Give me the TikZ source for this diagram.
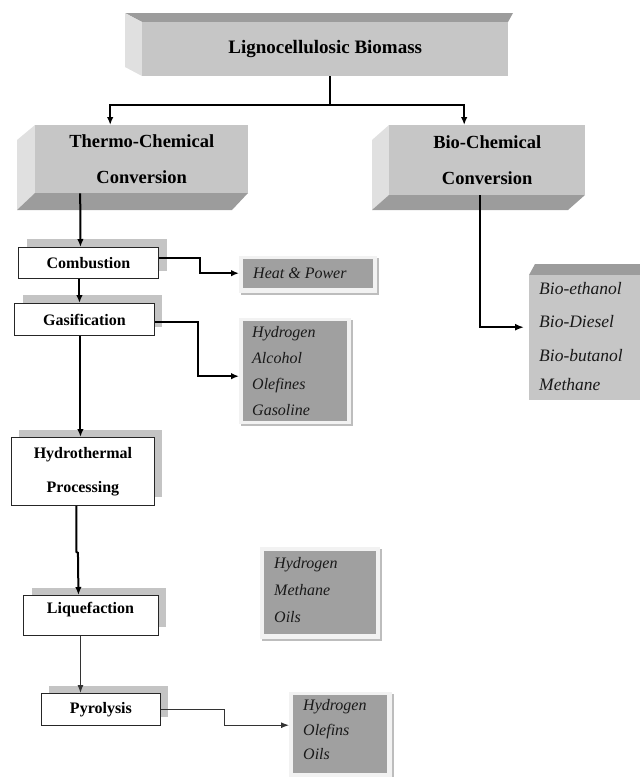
\documentclass[tikz,border=0pt]{standalone}
\usepackage{fontspec}
\setmainfont{Liberation Serif}
\usetikzlibrary{arrows.meta}
\definecolor{frontg}{HTML}{C6C6C6}
\definecolor{topg}{HTML}{9C9C9C}
\definecolor{sideg}{HTML}{E0E0E0}
\definecolor{darkg}{HTML}{A0A0A0}
\definecolor{shadg}{HTML}{C4C4C4}
\definecolor{frameg}{HTML}{F2F2F2}
\definecolor{frameshad}{HTML}{BDBDBD}
\begin{document}
\begin{tikzpicture}[x=1pt,y=-1pt,
  conn/.style={line width=2pt, -{Latex[length=8pt,width=6.5pt]}},
  thinconn/.style={line width=1.1pt, black!80, -{Latex[length=8pt,width=6pt]}},
  face/.style={fill=frontg, draw=none, inner sep=0pt},
  bigtext/.style={font=\fontsize{18.5}{36}\selectfont\bfseries, align=center},
  proc/.style={draw=black!85, line width=0.9pt, fill=white, inner sep=0pt,
    font=\fontsize{16}{34}\selectfont\bfseries, align=center},
  shad/.style={fill=shadg, draw=none},
  frame/.style={fill=frameg, draw=none, inner sep=0pt},
  inner/.style={fill=darkg, draw=none},
  item/.style={anchor=base west, inner sep=0pt, font=\fontsize{16}{19}\selectfont\itshape, text=black!90},
  bitem/.style={anchor=base west, inner sep=0pt, font=\fontsize{17.5}{20}\selectfont\itshape, text=black!90}
]
\useasboundingbox (0,0) rectangle (640,777);

% ---------- Top 3D box ----------
\fill[topg] (125,13) -- (513,13) -- (508,22) -- (142,22) -- cycle;
\fill[sideg] (125,13) -- (142,22) -- (142,76) -- (125,67) -- cycle;
\node[face, minimum width=366, minimum height=54, anchor=north west] (top) at (142,22) {};
\node[bigtext, font=\fontsize{19}{22}\selectfont\bfseries] (toptext) at (top.center) {Lignocellulosic Biomass};

% ---------- Thermo-Chemical 3D box ----------
\fill[sideg] (17,140) -- (35,125) -- (35,193) -- (17,210) -- cycle;
\fill[topg] (17,210) -- (35,193) -- (248,193) -- (232,210) -- cycle;
\node[face, minimum width=213, minimum height=68, anchor=north west] (thermo) at (35,125) {};
\node[bigtext] (thermotext) at (thermo.center) {Thermo-Chemical\\Conversion};

% ---------- Bio-Chemical 3D box ----------
\fill[sideg] (372,140) -- (389,125) -- (389,195) -- (372,210) -- cycle;
\fill[topg] (372,210) -- (389,195) -- (585,195) -- (568,210) -- cycle;
\node[face, minimum width=196, minimum height=70, anchor=north west] (bio) at (389,125) {};
\node[bigtext] (biotext) at (bio.center) {Bio-Chemical\\Conversion};

% ---------- Process boxes ----------
\fill[shad] (27,239) rectangle (167,271);
\node[proc, minimum width=140, minimum height=31, anchor=north west] (comb) at (18,247) {Combustion};

\fill[shad] (23,295) rectangle (162,327);
\node[proc, minimum width=140, minimum height=32, anchor=north west] (gas) at (14,303) {Gasification};

\fill[shad] (19,430) rectangle (162,497);
\node[proc, minimum width=143, minimum height=68, anchor=north west] (hydro) at (11,437) {Hydrothermal\\Processing};

\fill[shad] (32,588) rectangle (166,627);
\node[proc, minimum width=135, minimum height=40, anchor=north west] (liq) at (23,595) {};
\node[font=\fontsize{16}{19}\selectfont\bfseries, inner sep=0pt] (liqtext) at (90.5,610) {Liquefaction};

\fill[shad] (49,686) rectangle (168,717);
\node[proc, minimum width=119, minimum height=32, anchor=north west] (pyr) at (41,693) {Pyrolysis};

% ---------- Product boxes ----------
% Heat & Power
\fill[frameshad] (241,258) rectangle (379,295);
\node[frame, minimum width=138, minimum height=37, anchor=north west] (heat) at (239,256) {};
\fill[inner] (243,259) rectangle (373,288);
\node[item] (heattext) at (253,278) {Heat \& Power};

% Gasification products
\fill[frameshad] (241,320) rectangle (353,426);
\node[frame, minimum width=112, minimum height=106, anchor=north west] (gprod) at (239,318) {};
\fill[inner] (243,321) rectangle (347,421);
\node[item] (g1) at (252,337) {Hydrogen};
\node[item] (g2) at (252,363) {Alcohol};
\node[item] (g3) at (252,389) {Olefines};
\node[item] (g4) at (252,415) {Gasoline};

% Hydrothermal products
\fill[frameshad] (262,549) rectangle (382,641);
\node[frame, minimum width=120, minimum height=92, anchor=north west] (hprod) at (260,547) {};
\fill[inner] (264,551) rectangle (376,634);
\node[item] (h1) at (274,568) {Hydrogen};
\node[item] (h2) at (274,595) {Methane};
\node[item] (h3) at (274,622) {Oils};

% Pyrolysis products
\fill[frameshad] (291,694) rectangle (394,777);
\node[frame, minimum width=103, minimum height=85, anchor=north west] (pprod) at (289,692) {};
\fill[inner] (293,695) rectangle (387,773);
\node[item] (p1) at (303,710) {Hydrogen};
\node[item] (p2) at (303,735) {Olefins};
\node[item] (p3) at (303,759) {Oils};

% Bio products
\fill[topg] (529,275) -- (535,264) -- (640,264) -- (640,275) -- cycle;
\node[face, minimum width=111, minimum height=125, anchor=north west] (bprod) at (529,275) {};
\node[bitem] (b1) at (539,294.5) {Bio-ethanol};
\node[bitem] (b2) at (539,327.5) {Bio-Diesel};
\node[bitem] (b3) at (539,361) {Bio-butanol};
\node[bitem] (b4) at (539,390.5) {Methane};

% ---------- Connectors ----------
\draw[line width=2pt] ([xshift=5]top.south) -- ++(0,29) coordinate (split);
\draw[conn] (split) -| ([xshift=-31.5]thermo.north);
\draw[conn] (split) -| ([xshift=-23]bio.north);

\draw[conn] ([xshift=-61.5]thermo.south) -- ([xshift=-8]comb.north);
\draw[conn] ([yshift=5]comb.east) -- ++(41,0) |- ([yshift=1.5]heat.west);
\draw[conn] ([xshift=-9]comb.south) -- ([xshift=-5]gas.north);
\draw[conn] ([yshift=-3]gas.east) -- ++(43,0) |- ([yshift=-5]gprod.west);
\draw[conn] ([xshift=-4]gas.south) -- ([xshift=-2.5]hydro.north);
\draw[conn] ([xshift=-6.5]hydro.south) -- ++(0,46) -- ++(1.5,1) -- ([xshift=-12.5]liq.north);
\draw[thinconn] ([xshift=-10.5]liq.south) -- ([xshift=-20.5]pyr.north);
\draw[thinconn] (pyr.east) -- ++(64,0) |- ([yshift=9.5]pprod.west);
\draw[line width=2.4pt, -{Latex[length=9pt,width=7pt]}] ([xshift=-7]bio.south) |- ([xshift=-5,yshift=10.5]bprod.west);
\end{tikzpicture}
\end{document}
